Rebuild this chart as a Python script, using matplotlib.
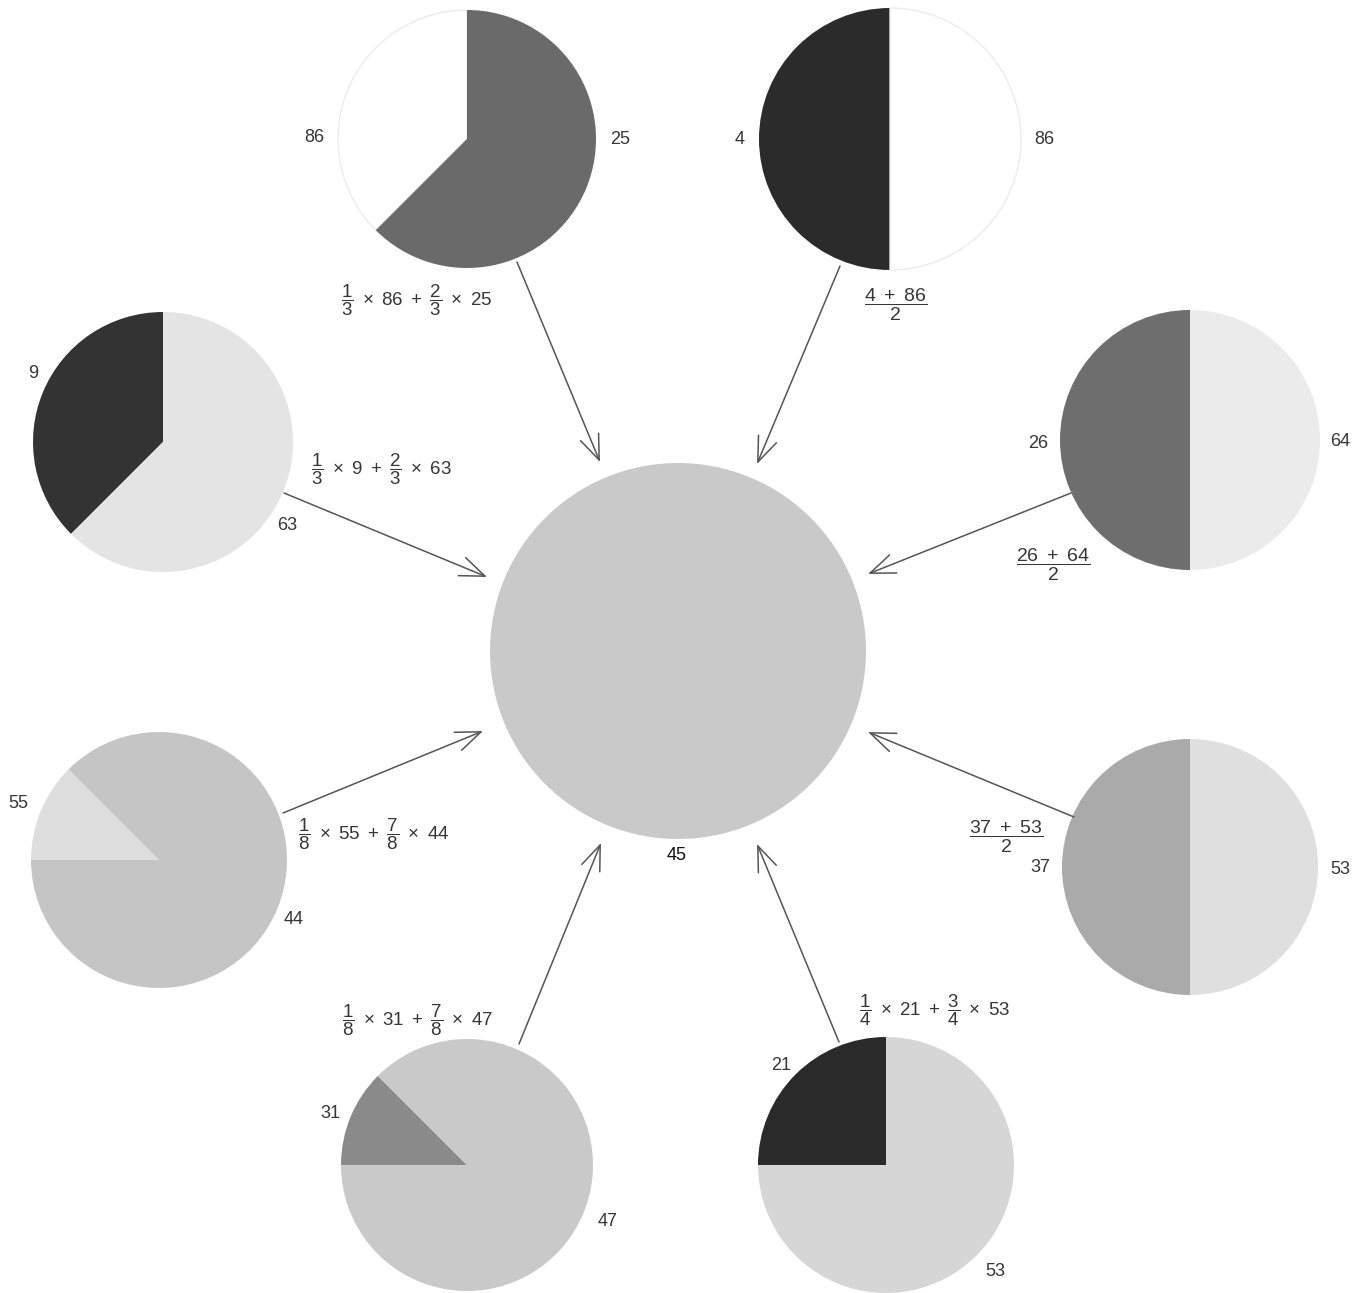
import matplotlib
matplotlib.use("Agg")
import matplotlib.pyplot as plt

plt.rcParams['font.family'] = ['Liberation Sans', 'DejaVu Sans']
plt.rcParams['mathtext.fontset'] = 'custom'
plt.rcParams['mathtext.rm'] = 'Liberation Sans'
plt.rcParams['mathtext.it'] = 'Liberation Sans'
plt.rcParams['mathtext.sf'] = 'Liberation Sans'

W, H = 1367, 1293

# ---- data ----
center_value = 45
values_first = [86, 4, 9, 26, 55, 37, 31, 21]
values_second = [25, 86, 63, 64, 44, 53, 47, 53]
share_first = [0.375, 0.5, 0.375, 0.5, 0.125, 0.5, 0.125, 0.25]   # visual share of first wedge
formulas = [
    r"$\dfrac{1}{3}\ \times\ 86\ +\ \dfrac{2}{3}\ \times\ 25$",
    r"$\dfrac{4\ +\ 86}{2}$",
    r"$\dfrac{1}{3}\ \times\ 9\ +\ \dfrac{2}{3}\ \times\ 63$",
    r"$\dfrac{26\ +\ 64}{2}$",
    r"$\dfrac{1}{8}\ \times\ 55\ +\ \dfrac{7}{8}\ \times\ 44$",
    r"$\dfrac{37\ +\ 53}{2}$",
    r"$\dfrac{1}{8}\ \times\ 31\ +\ \dfrac{7}{8}\ \times\ 47$",
    r"$\dfrac{1}{4}\ \times\ 21\ +\ \dfrac{3}{4}\ \times\ 53$",
]

# ---- styling / layout ----
colors_first = ["#ffffff", "#2b2b2b", "#333333", "#6e6e6e", "#dedede", "#aaaaaa", "#8a8a8a", "#2a2a2a"]
colors_second = ["#6a6a6a", "#ffffff", "#e4e4e4", "#ebebeb", "#c5c5c5", "#dfdfdf", "#c9c9c9", "#d6d6d6"]
center_color = "#c9c9c9"

pie_centers = [(467, 139), (890, 139), (163, 442), (1190, 440),
               (159, 860), (1190, 867), (467, 1165), (886, 1165)]
pie_radii = [129, 131, 130, 130, 128, 128, 126, 128]
start_angles = [90, 90, 90, 90, 135, 90, 135, 90]
label_first_pos = [(314, 138), (740, 140), (33, 374), (1038, 443),
                   (18, 803), (1040, 867), (330, 1113), (781, 1065)]
label_second_pos = [(620, 140), (1044, 140), (287, 525), (1340, 442),
                    (294, 920), (1340, 869), (608, 1222), (995, 1272)]
formula_pos = [(417, 300), (896, 305), (381, 469), (1053, 565),
                (374, 834), (1006, 837), (418, 1020), (935, 1010)]
formula_sizes = [13.5, 14, 13.5, 14, 13.5, 14, 13.5, 13.5]
arrows = [((517, 262), (600, 462)), ((840, 266), (757, 464)),
          ((284, 493), (487, 577)), ((1071, 493), (868, 574)),
          ((283, 813), (483, 731)), ((1074, 817), (868, 732)),
          ((519, 1044), (601, 843)), ((839, 1042), (757, 844))]
center_pos = (678, 651)
center_radius = 188
center_label_pos = (677, 855)


def P(x, y):
    return (x, H - y)


fig = plt.figure(figsize=(W / 100, H / 100), dpi=100)
ax = fig.add_axes([0, 0, 1, 1])

# center disc
ax.pie([1], colors=[center_color], center=P(*center_pos), radius=center_radius,
       wedgeprops=dict(linewidth=0))

for i in range(8):
    cols = [colors_first[i], colors_second[i]]
    wedges, _ = ax.pie([share_first[i], 1 - share_first[i]], colors=cols,
                       startangle=start_angles[i], counterclock=True,
                       center=P(*pie_centers[i]), radius=pie_radii[i],
                       wedgeprops=dict(linewidth=0))
    for w, c in zip(wedges, cols):
        if c == "#ffffff":
            w.set_edgecolor("#ececec")
            w.set_linewidth(1.0)

txt_color = "#363636"
for i in range(8):
    ax.text(*P(*label_first_pos[i]), str(values_first[i]), ha='center', va='center',
            fontsize=13, color=txt_color)
    ax.text(*P(*label_second_pos[i]), str(values_second[i]), ha='center', va='center',
            fontsize=13, color=txt_color)
    ax.text(*P(*formula_pos[i]), formulas[i], ha='center', va='center',
            fontsize=formula_sizes[i], color=txt_color)

ax.text(*P(*center_label_pos), str(center_value), ha='center', va='center',
        fontsize=13, color="#111111")

for (s, e) in arrows:
    ax.annotate("", xy=P(*e), xytext=P(*s),
                arrowprops=dict(arrowstyle="->,head_length=0.9,head_width=0.35",
                                mutation_scale=20, lw=1.1, color="#555555",
                                shrinkA=0, shrinkB=0))

ax.set_xlim(0, W)
ax.set_ylim(0, H)
ax.set_aspect('equal')
ax.axis('off')
fig.savefig("out.png", dpi=100, facecolor="white")
